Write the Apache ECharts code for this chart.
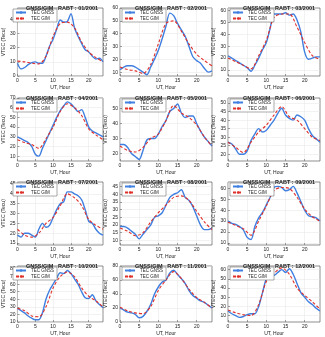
<!DOCTYPE html>
<html>
<head>
<meta charset="utf-8">
<script src="https://cdn.jsdelivr.net/npm/echarts@6/dist/echarts.min.js"></script>
<style>
    html, body { margin: 0; padding: 0; background: #fff; }
    #chart { width: 325px; height: 337px; }
</style>
</head>
<body>
<div id="chart"></div>
<script>
// hours for each curve
var hoursGnss = [0,1,2,3,4,5,6,7,8,9,10,11,12,13,14,15,16,17,18,19,20,21,22,23,24]
var hoursGim = [0,2,4,6,8,10,12,14,16,18,20,22,24]
var xTicks = [0,5,10,15,20]

var months = ['01/2001','02/2001','03/2001','04/2001','05/2001','06/2001',
              '07/2001','08/2001','09/2001','10/2001','11/2001','12/2001']

// TEC GNSS (hourly)
var gnss01 = [9,5,6,8,9.5,10,9,9,14,21,26,33,39.5,38,38.5,44,34,28,23,18.5,17,14,12,12.5,10]
var gnss02 = [12,14,15,15,14,12,10,8,14,20,27,36,46,56,54,48,43,38,30,22,19,17,13,10,11]
var gnss03 = [22,20,18,16,14,12,9,14,20,27,33,45,57,57,57,58,56,57,52,42,25,19,20,21,21]
var gnss04 = [30,28,26,24,20,12,10,18,26,34,42,50,57,62,66,64,60,56,58,50,40,36,34,32,30]
var gnss05 = [26,26,24,20,18,16,22,29,30,30,33,38,42,48,50,53,47,44,45,45,40,35,31,28,25]
var gnss06 = [27,26,23,20,20,22,28,32,35,33,34,37,40,44,47,43,41,40,43,42,40,35,31,29,27]
var gnss07 = [19,18,20,20,19,18,22,25,23,24,28,32,35,36,41,41,40,39,37,32,26,25,22,20,19]
var gnss08 = [19,19,18,16,14,11,14,17,20,25,26,28,33,38,40,41,43,38,36,32,26,20,17,17,18]
var gnss09 = [30,28,27,25,22,15,13,25,33,38,45,52,61,62,61,58,59,62,56,48,40,35,34,33,30]
var gnss10 = [28,25,22,18,15,13,13,22,40,52,60,68,75,74,78,74,67,60,50,42,41,46,38,33,29]
var gnss11 = [20,17,14,13,11,6,8,15,25,40,50,57,60,70,74,68,62,55,45,38,34,30,28,24,20]
var gnss12 = [15,12,10,8,9,11,12,12,20,35,50,55,54,57,60,57,61,55,45,35,30,25,22,18,15]

// TEC GIM (2-hourly)
var gim01 = [10.5,10,9,8.5,14,28,37,38,34,24,17,13,10]
var gim02 = [14,12,11,9,16,32,48,50,42,32,24,19,15]
var gim03 = [20,17,14,11,22,35,54,57,57,46,33,22,19]
var gim04 = [27,24,22,18,28,40,56,64,60,52,38,32,27]
var gim05 = [25,22,21,24,30,33,42,52,47,44,39,31,25]
var gim06 = [27,24,21,27,33,37,43,48,42,40,35,30,28]
var gim07 = [22,19,18,20,25,28,34,40,38,34,27,24,22]
var gim08 = [18,16,13,15,22,28,33,38,39,36,29,22,17]
var gim09 = [29,26,23,17,30,44,58,61,60,52,41,34,30]
var gim10 = [28,25,18,17,30,55,70,76,70,55,44,38,30]
var gim11 = [21,16,13,12,22,45,60,72,62,47,35,28,20]
var gim12 = [16,13,11,10,22,47,56,62,55,40,32,25,17]

// y axis ranges and tick labels
var yMins = [0, 7, 5, 5, 15, 16, 14, 7, 8, 10, 0, 3]
var yMaxs = [48, 60, 62, 70, 57, 53, 46, 48, 66, 84, 80, 64]
var yTicks01 = [0,10,20,30,40]
var yTicks02 = [10,20,30,40,50,60]
var yTicks03 = [10,20,30,40,50,60]
var yTicks04 = [10,20,30,40,50,60,70]
var yTicks05 = [20,30,40,50]
var yTicks06 = [20,25,30,35,40,45,50]
var yTicks07 = [15,20,25,30,35,40,45]
var yTicks08 = [10,15,20,25,30,35,40,45]
var yTicks09 = [10,20,30,40,50,60]
var yTicks10 = [10,20,30,40,50,60,70,80]
var yTicks11 = [0,20,40,60,80]
var yTicks12 = [10,20,30,40,50,60]

var gnssList = [gnss01,gnss02,gnss03,gnss04,gnss05,gnss06,gnss07,gnss08,gnss09,gnss10,gnss11,gnss12]
var gimList = [gim01,gim02,gim03,gim04,gim05,gim06,gim07,gim08,gim09,gim10,gim11,gim12]
var yTickList = [yTicks01,yTicks02,yTicks03,yTicks04,yTicks05,yTicks06,
                 yTicks07,yTicks08,yTicks09,yTicks10,yTicks11,yTicks12]

var colLeft = [11, 120, 228]
var colWidth = 92
var rowTop = [8, 98, 182, 266]
var rowHeight = [68, 63, 63, 63]

function pairs(xs, ys) {
    var out = []
    for (var i = 0; i < xs.length; i++) {
        out.push([xs[i], ys[i]])
    }
    return out
}

var txt = '#222'
var fontName = 'Liberation Sans'
var grids = [], xAxes = [], yAxes = [], series = [], titles = [], legends = []

for (var k = 0; k < 12; k++) {
    // note: not called top/left, those are window globals
    var gLeft = colLeft[k % 3]
    var gTop = rowTop[Math.floor(k / 3)]
    var gHeight = rowHeight[Math.floor(k / 3)]
    grids.push({
        left: gLeft, top: gTop, width: colWidth, height: gHeight,
        show: true, borderColor: '#444', borderWidth: 0.6
    })
    titles.push({
        text: 'GNSS/GIM   RABT : ' + months[k],
        left: gLeft + colWidth / 2, top: gTop - 8, textAlign: 'center',
        textStyle: { fontSize: 5.5, fontWeight: 'bold', color: txt, fontFamily: fontName }
    })
    xAxes.push({
        gridIndex: k, type: 'value', min: 0, max: 24,
        name: 'UT, Hour', nameLocation: 'middle', nameGap: 9,
        nameTextStyle: { fontSize: 5, color: txt, fontFamily: fontName },
        axisLine: { show: false },
        axisTick: { show: true, inside: true, length: 2, customValues: xTicks, lineStyle: { color: '#444', width: 0.5 } },
        axisLabel: { fontSize: 5, margin: 2, color: txt, fontFamily: fontName, customValues: xTicks },
        splitLine: { show: true, lineStyle: { color: '#e4e4e4', width: 0.5 } }
    })
    yAxes.push({
        gridIndex: k, type: 'value', min: yMins[k], max: yMaxs[k],
        name: 'VTEC (Tecu)', nameLocation: 'middle', nameGap: 8, nameRotate: 90,
        nameTextStyle: { fontSize: 5, color: txt, fontFamily: fontName },
        axisLine: { show: false },
        axisTick: { show: true, inside: true, length: 2, customValues: yTickList[k], lineStyle: { color: '#444', width: 0.5 } },
        axisLabel: { fontSize: 5, margin: 2, color: txt, fontFamily: fontName, customValues: yTickList[k] },
        splitLine: { show: true, lineStyle: { color: '#e4e4e4', width: 0.5 } }
    })
    series.push({
        name: 'TEC GNSS', type: 'line', xAxisIndex: k, yAxisIndex: k,
        data: pairs(hoursGnss, gnssList[k]), symbol: 'none', smooth: 0.3,
        lineStyle: { color: '#3f7fe0', width: 1.4 }, itemStyle: { color: '#3f7fe0' }
    })
    series.push({
        name: 'TEC GIM', type: 'line', xAxisIndex: k, yAxisIndex: k,
        data: pairs(hoursGim, gimList[k]), symbol: 'none', smooth: 0.3,
        lineStyle: { color: '#e0302a', width: 1.1, type: [3, 2] }, itemStyle: { color: '#e0302a' }
    })
    legends.push({
        data: ['TEC GNSS', 'TEC GIM'], orient: 'vertical',
        left: gLeft + 2, top: gTop + 1,
        itemWidth: 10, itemHeight: 3, itemGap: 1,
        padding: [1, 3, 1, 2],
        backgroundColor: '#fff', borderColor: '#555', borderWidth: 0.5,
        textStyle: { fontSize: 4.5, color: txt, fontFamily: fontName },
        selectedMode: false
    })
}

var chart = echarts.init(document.getElementById('chart'))
chart.setOption({
    animation: false,
    title: titles,
    legend: legends,
    grid: grids,
    xAxis: xAxes,
    yAxis: yAxes,
    series: series
})
</script>
</body>
</html>
